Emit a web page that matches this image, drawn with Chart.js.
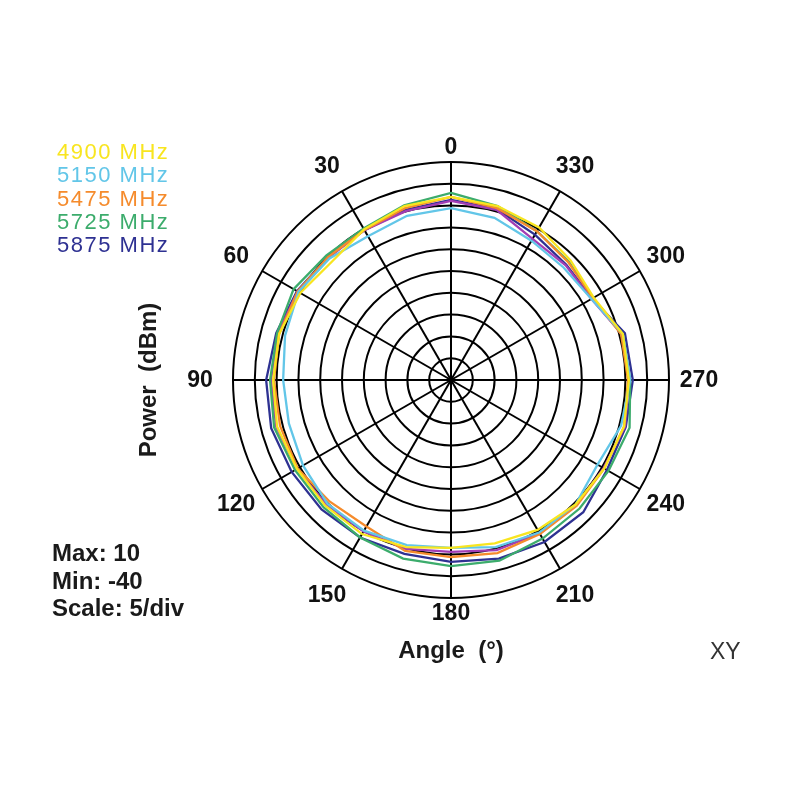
<!DOCTYPE html>
<html>
<head>
<meta charset="utf-8">
<script src="https://cdn.jsdelivr.net/npm/chart.js@4.4.1/dist/chart.umd.min.js"></script>
<style>
  html, body { margin:0; padding:0; background:#fff; }
  #wrap { position:relative; width:800px; height:800px; overflow:hidden; font-family:"Liberation Sans", Arial, sans-serif; }
  canvas { position:absolute; left:0; top:0; }
  .legend { position:absolute; left:57px; top:140px; font-size:22px; line-height:23.3px; letter-spacing:1.5px; white-space:nowrap; }
  .notes { position:absolute; left:52px; top:539px; font-size:24px; font-weight:bold; line-height:27.5px; color:#1a1a1a; white-space:nowrap; }
  .xtitle { position:absolute; left:351px; width:200px; top:636px; text-align:center; font-size:24px; font-weight:bold; color:#1a1a1a; white-space:pre; }
  .ytitle { position:absolute; left:48px; width:200px; top:366px; text-align:center; font-size:24px; font-weight:bold; color:#1a1a1a; white-space:pre; transform:rotate(-90deg); transform-origin:100px 14px; }
  .xy { position:absolute; left:710px; top:638px; font-size:23px; color:#333; }
</style>
</head>
<body>
<div id="wrap">
  <canvas id="c" width="800" height="800"></canvas>
  <div class="legend" id="legend"></div>
  <div class="notes" id="notes"></div>
  <div class="xtitle">Angle  (°)</div>
  <div class="ytitle">Power  (dBm)</div>
  <div class="xy">XY</div>
</div>
<script>
// Angles (deg, counter-clockwise from top) at which each trace is sampled
const angles = [0,15,30,45,60,75,90,105,120,135,150,165,180,195,210,225,240,255,270,285,300,315,330,345];
// Angle tick labels shown around the plot
const angleTickLabels = [0,30,60,90,120,150,180,210,240,270,300,330];
// Radial scale (dBm)
const rMin = -40, rMax = 10, rStep = 5;

const seriesNames = ['4900 MHz','5150 MHz','5475 MHz','5725 MHz','5875 MHz'];
const seriesColors = ['#f8e51f','#62c6e8','#f58b2c','#3cac6c','#2e3192'];

const p4900 = [2.0,1.3,-0.1,-1.5,-0.1,0.8,0.8,1.3,0.8,0.8,0.8,-0.3,-1.5,-1.2,-0.3,0.4,0.6,1.1,0.8,0.8,-2.2,-1.2,0.4,1.3];
const p5150 = [-0.6,-1.0,-1.9,-0.6,0.4,-0.6,-1.5,-1.5,-0.8,0.1,-0.1,-0.8,-1.5,-0.3,0.4,0.4,-1.2,0.4,1.1,0.8,-2.8,-3.5,-3.1,-1.5];
const p5475 = [2.0,0.8,-0.3,-0.1,0.6,0.8,0.6,0.6,0.6,-0.6,-1.2,0.6,0.6,1.1,0.8,0.8,0.6,1.1,0.6,0.4,-2.4,-1.9,-0.6,0.8];
const p5725 = [2.9,1.5,0.1,0.4,1.7,1.3,1.5,2.0,1.3,1.3,1.7,2.4,2.7,2.9,2.0,1.7,1.7,2.4,1.1,0.8,-2.4,-1.7,-0.6,1.3];
const p5875 = [1.3,0.4,-0.3,-0.1,0.8,1.5,2.4,2.7,2.2,2.0,1.7,1.3,1.7,2.4,2.9,2.9,1.3,1.5,1.7,1.3,-2.6,-2.6,-1.5,0.6];
// extra (unlabelled) purple trace visible in the plot
const pExtra = [1.1,0.1,-0.3,-0.3,0.6,1.1,1.3,1.5,0.8,0.4,0.1,0.1,-0.6,0.4,0.6,0.6,0.4,1.3,0.8,0.6,-2.8,-2.8,-2.6,0.4];
const extraColor = '#a23db4';

const notes = ['Max: ' + rMax, 'Min: ' + rMin, 'Scale: ' + rStep + '/div'];

// Radar draws clockwise from the top; the reference runs counter-clockwise.
const n = angles.length;
const order = angles.map((_, k) => (n - k) % n);
const labels = order.map(i => angles[i]);
const reorder = arr => order.map(i => arr[i]);

const allSeries = [p4900, p5150, p5475, p5725, p5875];
const datasets = allSeries.map((s, i) => ({
  label: seriesNames[i], data: reorder(s), borderColor: seriesColors[i],
  borderWidth: 2.3, pointRadius: 0, fill: false, tension: 0
}));
datasets.splice(4, 0, { label: '', data: reorder(pExtra), borderColor: extraColor, borderWidth: 2.3, pointRadius: 0, fill: false, tension: 0 });

// HTML legend / notes
const lg = document.getElementById('legend');
seriesNames.forEach((nm, i) => { const d = document.createElement('div'); d.textContent = nm; d.style.color = seriesColors[i]; lg.appendChild(d); });
const nt = document.getElementById('notes');
notes.forEach(t => { const d = document.createElement('div'); d.textContent = t; nt.appendChild(d); });

const angleLabelPlugin = {
  id: 'angleLabels',
  afterDraw(chart) {
    const s = chart.scales.r, ctx = chart.ctx;
    ctx.save();
    ctx.font = 'bold 23px "Liberation Sans", Arial, sans-serif';
    ctx.fillStyle = '#111';
    ctx.textAlign = 'center';
    ctx.textBaseline = 'middle';
    chart.data.labels.forEach((a, i) => {
      if (!angleTickLabels.includes(a)) return;
      const extra = (a === 0 || a === 180) ? 15 : (a === 90 ? 33 : 30);
      const p = s.getPointPosition(i, s.drawingArea + extra);
      ctx.fillText(String(a), p.x, p.y + 1);
    });
    ctx.restore();
  }
};

new Chart(document.getElementById('c'), {
  type: 'radar',
  data: { labels, datasets },
  plugins: [angleLabelPlugin],
  options: {
    responsive: false,
    animation: false,
    layout: { padding: { left: 233, top: 162, right: 130, bottom: 201 } },
    plugins: { legend: { display: false }, tooltip: { enabled: false } },
    elements: { line: { tension: 0 } },
    scales: {
      r: {
        min: rMin, max: rMax,
        ticks: { display: false, stepSize: rStep },
        grid: { circular: true, color: '#000', lineWidth: 2 },
        angleLines: { display: true, color: '#000', lineWidth: ctx => (angleTickLabels.includes(labels[ctx.index]) ? 2 : 0) },
        pointLabels: { display: false }
      }
    }
  }
});
</script>
</body>
</html>
